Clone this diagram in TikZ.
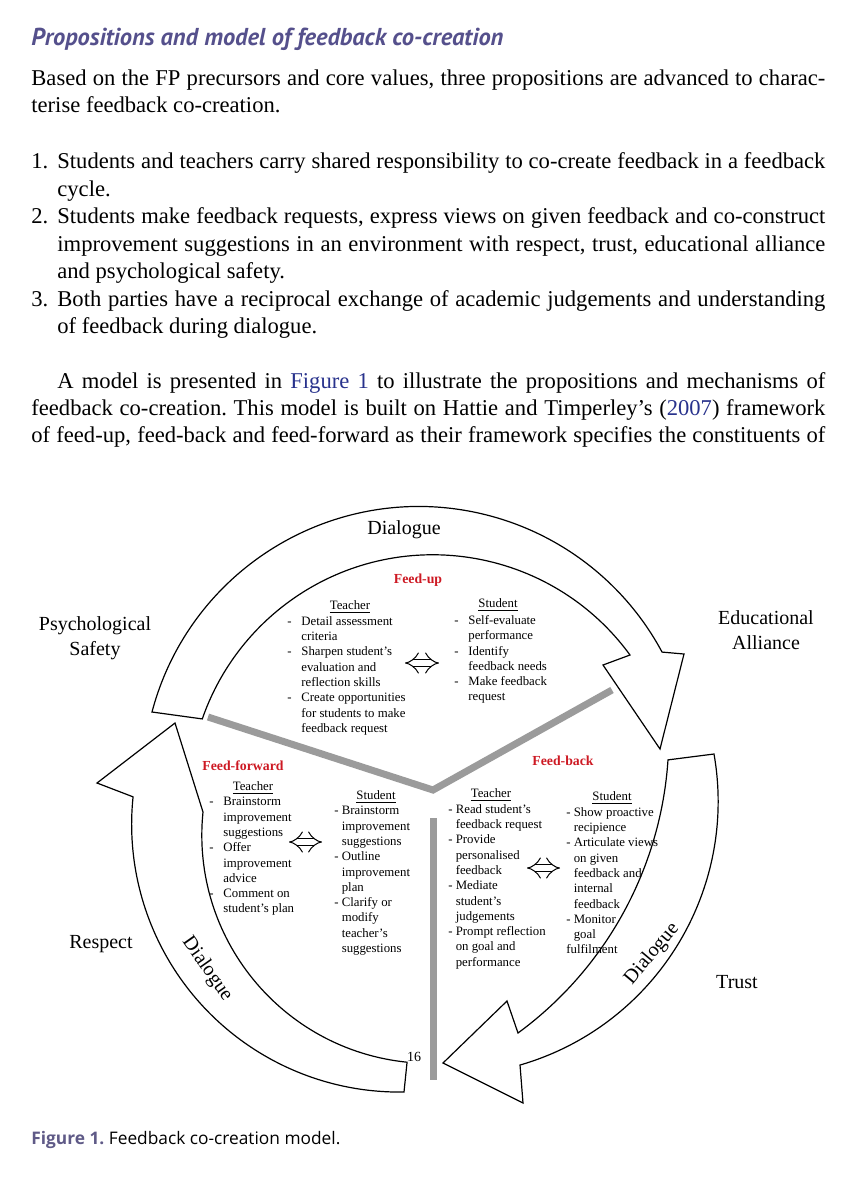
\documentclass[tikz,border=0pt]{standalone}
\usepackage{graphicx}
\usepackage{fontspec}
\setmainfont{Liberation Serif}
\newfontfamily\headfont{PT Sans}
\newfontfamily\capfont{Open Sans}
\usetikzlibrary{arrows.meta,calc}
\frenchspacing

\definecolor{headpurple}{RGB}{85,80,140}
\definecolor{cappurple}{RGB}{95,90,135}
\definecolor{linkblue}{RGB}{40,50,140}
\definecolor{feedred}{RGB}{205,25,35}
\definecolor{spokegray}{RGB}{155,155,155}

\newlength{\hw}
\newcommand{\hyi}{\makebox[\hw][l]{-}}
\newcommand{\cti}{\hspace*{\hw}}
\newcommand{\jline}[2]{\makebox[#1][s]{#2}}

\tikzset{
  body/.style={anchor=base west, inner sep=0pt, font=\fontsize{11.3}{13.7}\selectfont},
  bigl/.style={font=\fontsize{10}{12.5}\selectfont, align=center, inner sep=0pt},
  feedl/.style={font=\fontsize{6.9}{8}\selectfont\bfseries, text=feedred, inner sep=0pt},
  headl/.style={font=\fontsize{6.4}{7.65}\selectfont, inner sep=0pt},
  col/.style={font=\fontsize{6.4}{7.65}\selectfont\setlength{\hw}{#1}, align=left, anchor=north west, inner sep=0pt},
  cycarrow/.style={draw=black, line width=0.6pt, line join=miter},
  spoke/.style={draw=spokegray, line width=3.5pt},
  swaparrow/.style={double, double distance=3.3pt, line width=0.5pt, {Implies}-{Implies}}
}

\begin{document}
\begin{tikzpicture}[x=0.5pt, y=0.5pt]
  \useasboundingbox (0,0) rectangle (863,-1200);

  \node[anchor=base west, inner sep=0pt, text=headpurple] (head) at (31,-45)
    {\resizebox{236pt}{!}{\headfont\bfseries\itshape Propositions and model of feedback co-creation}};

  \node[body] (p1a) at (31,-85) {\jline{397pt}{Based on the FP precursors and core values, three propositions are advanced to charac-}};
  \node[body] (p1b) at (31,-112) {terise feedback co-creation.};
  \node[body] (n1) at (31,-168) {1.};
  \node[body] (i1a) at (57,-168) {\jline{384pt}{Students and teachers carry shared responsibility to co-create feedback in a feedback}};
  \node[body] (i1b) at (57,-196) {cycle.};
  \node[body] (n2) at (31,-223) {2.};
  \node[body] (i2a) at (57,-223) {\jline{384pt}{Students make feedback requests, express views on given feedback and co-construct}};
  \node[body] (i2b) at (57,-251) {\jline{384pt}{improvement suggestions in an environment with respect, trust, educational alliance}};
  \node[body] (i2c) at (57,-278) {and psychological safety.};
  \node[body] (n3) at (31,-306) {3.};
  \node[body] (i3a) at (57,-306) {\jline{384pt}{Both parties have a reciprocal exchange of academic judgements and understanding}};
  \node[body] (i3b) at (57,-333) {of feedback during dialogue.};
  \node[body] (p2a) at (57,-388) {\jline{384pt}{A model is presented in \textcolor{linkblue}{Figure 1} to illustrate the propositions and mechanisms of}};
  \node[body] (p2b) at (31,-415) {\jline{397pt}{feedback co-creation. This model is built on Hattie and Timperley's (\textcolor{linkblue}{2007}) framework}};
  \node[body] (p2c) at (31,-442) {\jline{397pt}{of feed-up, feed-back and feed-forward as their framework specifies the constituents of}};

  \draw[cycarrow] (152,-712) arc[start angle=165.2, end angle=28.2, radius=276]
    -- (684,-654) -- (660,-749) -- (603,-665) -- (630,-655)
    arc[start angle=36.1, end angle=160.9, radius=244] -- cycle;
  \draw[cycarrow] (714,-754) arc[start angle=9.94, end angle=-73.84, radius=274.5]
    -- (523,-1103) -- (443,-1063) -- (507,-1001) -- (518,-1033)
    arc[start angle=-53.75, end angle=-3.8, radius=369] -- cycle;
  \draw[cycarrow] (404,-1092) arc[start angle=-89, end angle=-185.9, radius=267.7]
    -- (97,-783) -- (175,-723) -- (203,-812)
    arc[start angle=174.2, end angle=264.2, radius=228.3] -- cycle;

  \coordinate (hub) at (433,-790);
  \coordinate (spokeL) at (208,-717);
  \coordinate (spokeR) at (612,-690);
  \coordinate (spokeT) at (433,-818);
  \coordinate (spokeB) at (433,-1080);
  \draw[spoke] (spokeL) -- (hub) -- (spokeR);
  \draw[spoke] (spokeT) -- (spokeB);

  \node[bigl] (dlgT) at (404,-530) {Dialogue};
  \node[bigl] (psy) at (95,-638) {Psychological\\Safety};
  \node[bigl] (edu) at (766,-630) {Educational\\Alliance};
  \node[bigl] (resp) at (101,-944) {Respect};
  \node[bigl] (trust) at (737,-982) {Trust};
  \node[bigl, rotate=-55] (dlgL) at (207,-969) {Dialogue};
  \node[bigl, rotate=50] (dlgR) at (652,-954) {Dialogue};
  \node[font=\fontsize{7}{8}\selectfont, inner sep=0pt] (pg) at (414,-1057) {16};

  \node[feedl] (fu) at (418,-580) {Feed-up};
  \node[feedl] (ff) at (243,-766) {Feed-forward};
  \node[feedl] (fb) at (563,-761) {Feed-back};

  \node[headl] (fuTh) at (350,-607) {\underline{Teacher}};
  \node[headl] (fuSh) at (498,-605) {\underline{Student}};
  \node[headl] (ffTh) at (253,-788) {\underline{Teacher}};
  \node[headl] (ffSh) at (376,-797) {\underline{Student}};
  \node[headl] (fbTh) at (491,-795) {\underline{Teacher}};
  \node[headl] (fbSh) at (612,-798) {\underline{Student}};

  \node[col=7pt] (fuTl) at (287,-616) {\hyi Detail assessment\\ \cti criteria\\ \hyi Sharpen student's\\
    \cti evaluation and\\ \cti reflection skills\\ \hyi Create opportunities\\ \cti for students to make\\ \cti feedback request};
  \node[col=7pt] (fuSl) at (454,-615) {\hyi Self-evaluate\\ \cti performance\\ \hyi Identify\\
    \cti feedback needs\\ \hyi Make feedback\\ \cti request};
  \node[col=7pt] (ffTl) at (209,-797) {\hyi Brainstorm\\ \cti improvement\\ \cti suggestions\\ \hyi Offer\\
    \cti improvement\\ \cti advice\\ \hyi Comment on\\ \cti student's plan};
  \node[col=3.7pt] (ffSl) at (334,-806) {\hyi Brainstorm\\ \cti improvement\\ \cti suggestions\\ \hyi Outline\\
    \cti improvement\\ \cti plan\\ \hyi Clarify or\\ \cti modify\\ \cti teacher's\\ \cti suggestions};
  \node[col=3.7pt] (fbTl) at (448,-804) {\hyi Read student's\\ \cti feedback request\\ \hyi Provide\\ \cti personalised\\
    \cti feedback\\ \hyi Mediate\\ \cti student's\\ \cti judgements\\ \hyi Prompt reflection\\ \cti on goal and\\ \cti performance};
  \node[col=3.7pt] (fbSl) at (566,-807) {\hyi Show proactive\\ \cti recipience\\ \hyi Articulate views\\ \cti on given\\
    \cti feedback and\\ \cti internal\\ \cti feedback\\ \hyi Monitor\\ \cti goal\\ fulfilment};

  \coordinate (fuL) at (405,-663);
  \coordinate (fuR) at (439,-663);
  \coordinate (ffL) at (289,-842);
  \coordinate (ffR) at (322,-842);
  \coordinate (fbL) at (527,-868);
  \coordinate (fbR) at (560,-868);
  \draw[swaparrow] (fuL) -- (fuR);
  \draw[swaparrow] (ffL) -- (ffR);
  \draw[swaparrow] (fbL) -- (fbR);

  \node[anchor=base west, inner sep=0pt] (cap) at (31,-1144)
    {\resizebox{154.5pt}{!}{\capfont\textcolor{cappurple}{\bfseries Figure 1.} Feedback co-creation model.}};
\end{tikzpicture}
\end{document}
